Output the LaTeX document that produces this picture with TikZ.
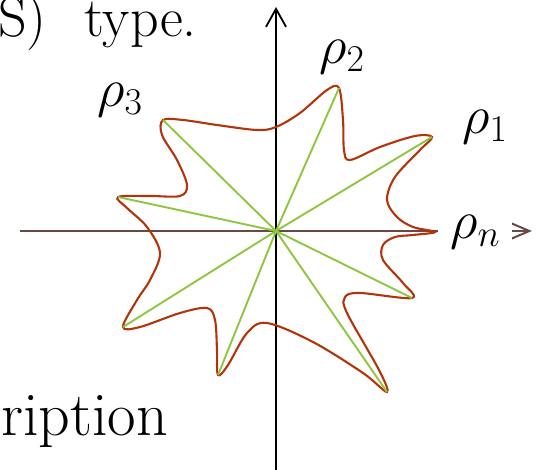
\RequirePackage{fix-cm}
\documentclass[tikz,border=0pt]{standalone}
\usetikzlibrary{arrows.meta}
\definecolor{curvered}{HTML}{B3340A}
\definecolor{raygreen}{HTML}{8DC63F}
\definecolor{axisbrown}{HTML}{6B4848}
\begin{document}
\begin{tikzpicture}[x=1pt,y=-1pt,
  bigtext/.style={anchor=base east,inner sep=0pt},
  rholabel/.style={inner sep=0pt,font=\fontsize{54}{60}\selectfont},
  ray/.style={raygreen,line width=1.9pt},
  vaxis/.style={black,line width=1.8pt,-{Straight Barb[length=18pt,width=20pt,line width=1.8pt]}},
  haxis/.style={axisbrown,line width=2.2pt,-{Straight Barb[length=20pt,width=17pt,line width=2pt]}},
  starcurve/.style={curvered,line width=2.1pt}]
\useasboundingbox (0,0) rectangle (541,470);
\clip (0,0) rectangle (541,470);
% texts
\node[bigtext,font=\fontsize{56}{60}\selectfont] (ttop) at (197,37) {\llap{RS)\hspace{38pt}}type.};
\node[bigtext,font=\fontsize{62}{70}\selectfont] (tbot) at (168,435) {ription};
% coordinates
\coordinate (c) at (276,231);
\coordinate (vb) at (276,472);
\coordinate (vt) at (276,7);
\coordinate (hl) at (20,231);
\coordinate (hr) at (532,231);
\coordinate (p1) at (432,137);
\coordinate (p2) at (339,88);
\coordinate (p3) at (163,120);
\coordinate (p4) at (118,197);
\coordinate (p5) at (123,327);
\coordinate (p6) at (218,375);
\coordinate (p7) at (387,392);
\coordinate (p8) at (412,298);
% axes
\draw[vaxis] (vb) -- (vt);
\draw[haxis] (hl) -- (hr);
% curve
\draw[starcurve] plot[smooth cycle,tension=0.55] coordinates {
(435,232) (413,227) (397,217) (387,200) (395,177) (420,150) (432,137)
(415,136) (380,147) (350,160) (344,150) (343,120) (339,88)
(327,90) (300,113) (276,127) (257,130) (217,125) (183,120) (163,120)
(162,135) (177,160) (187,185) (180,196) (150,196) (118,197)
(127,208) (147,227) (160,253) (150,280) (137,300) (123,327)
(140,327) (180,313) (207,308) (215,320) (217,350) (218,375)
(228,365) (247,333) (267,323) (313,342) (363,373) (387,392)
(379,370) (347,313) (345,297) (360,293) (412,298)
(403,283) (383,260) (383,245) (395,237) (413,235)};
% rays
\foreach \t in {p1,p2,p3,p4,p5,p6,p7,p8} \draw[ray] (c) -- (\t);
% labels
\node[rholabel,fill=white,minimum width=74pt,minimum height=20pt,anchor=west] (ln) at (438,232) {$\rho_n$};
\node[rholabel] (l1) at (485,127) {$\rho_1$};
\node[rholabel] (l2) at (342,57) {$\rho_2$};
\node[rholabel] (l3) at (120,100) {$\rho_3$};
\end{tikzpicture}
\end{document}
